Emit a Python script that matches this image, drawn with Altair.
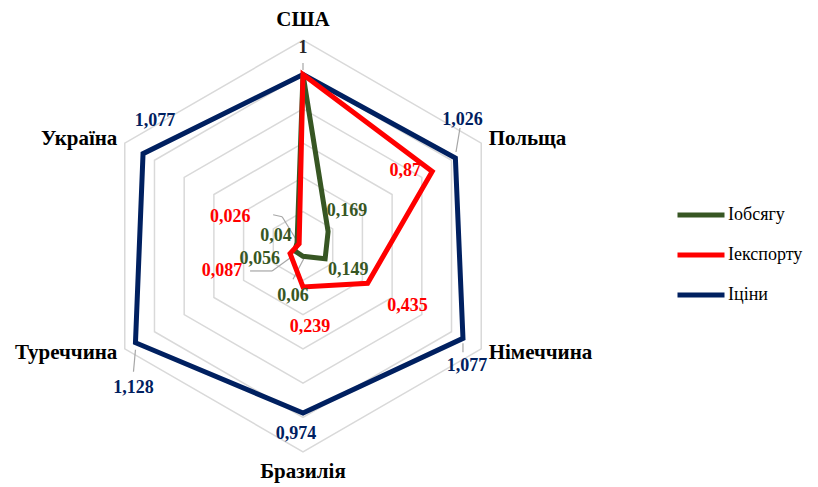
import altair as alt
import pandas as pd

categories = ["США", "Польща", "Німеччина", "Бразилія", "Туреччина", "Україна"]
series = ["Іобсягу", "Іекспорту", "Іціни"]
i_obsyagu = [1, 0.169, 0.149, 0.06, 0.056, 0.04]
i_eksportu = [1, 0.87, 0.435, 0.239, 0.087, 0.026]
i_tsiny = [1, 1.026, 1.077, 0.974, 1.128, 1.077]
grid_levels = [0.2, 0.4, 0.6, 0.8, 1.0, 1.2]
colors = ["#375623", "#FF0000", "#002060"]

rows = []
for s, vals in zip(series, [i_obsyagu, i_eksportu, i_tsiny]):
    for i, (c, v) in enumerate(zip(categories, vals)):
        rows.append({"series": s, "category": c, "idx": i, "value": v,
                     "label": f"{v:g}".replace(".", ",")})
df = pd.DataFrame(rows)
grid = pd.DataFrame([{"level": l, "idx": i} for l in grid_levels for i in range(6)])
cats = pd.DataFrame({"category": categories, "idx": list(range(6))})

W, H = 800, 470
R = 171.5          # pixels per unit
CX, CY = 295, 238  # centre inside plot area
xs = alt.Scale(domain=[-CX / R, (W - CX) / R], nice=False, zero=False)
ys = alt.Scale(domain=[(CY - H) / R, CY / R], nice=False, zero=False)

FONT = "Liberation Serif"

def polar(chart, rfield, out=("x", "y")):
    return chart.transform_calculate(
        **{out[0]: f"datum.{rfield} * sin(datum.idx * PI / 3)",
           out[1]: f"datum.{rfield} * cos(datum.idx * PI / 3)"})

X = lambda f="x": alt.X(f"{f}:Q", scale=xs, axis=None)
Y = lambda f="y": alt.Y(f"{f}:Q", scale=ys, axis=None)

grid_layer = polar(alt.Chart(grid), "level").mark_line(
    interpolate="linear-closed", color="#D9D9D9", strokeWidth=1.5
).encode(x=X(), y=Y(), detail="level:N", order="idx:Q")

color_scale = alt.Scale(domain=series, range=colors)
legend = alt.Legend(title=None, orient="none", legendX=667, legendY=181,
                    symbolType="stroke", symbolSize=2209, symbolStrokeWidth=5,
                    labelFont=FONT, labelFontSize=18, labelColor="#000000",
                    labelOffset=1, rowPadding=4)

def series_layer(s):
    return polar(alt.Chart(df), "value").transform_filter(
        alt.datum.series == s
    ).mark_line(interpolate="linear-closed", strokeWidth=5).encode(
        x=X(), y=Y(), order="idx:Q",
        color=alt.Color("series:N", scale=color_scale, legend=legend))

lines = [series_layer("Іціни"), series_layer("Іобсягу"), series_layer("Іекспорту")]

# category labels
cat_base = alt.Chart(cats).transform_calculate(
    r="(datum.idx == 0 || datum.idx == 3) ? 1.32 : 1.25")
cat_base = polar(cat_base, "r", ("lx", "ly"))
cat_text = dict(font=FONT, fontSize=21, fontWeight="bold", color="#000000", baseline="middle")
cat_layers = [
    cat_base.transform_filter("datum.idx == 0 || datum.idx == 3").mark_text(align="center", **cat_text),
    cat_base.transform_filter("datum.idx == 1 || datum.idx == 2").mark_text(align="left", **cat_text),
    cat_base.transform_filter("datum.idx == 4 || datum.idx == 5").mark_text(align="right", **cat_text),
]
cat_layers = [c.encode(x=X("lx"), y=Y("ly"), text="category:N") for c in cat_layers]

# leader lines (pixel offsets from their data point)
leader_rows = [
    ("Іціни", "США", 0, -11.5, 0, -4.5),
    ("Іціни", "Польща", 4.6, -30, 0.6, -6),
    ("Іціни", "Німеччина", 0, 5, 0, 14),
    ("Іціни", "Туреччина", 0, 7, -2, 29),
    ("Іекспорту", "Україна", -26, -29, -17, -27),
    ("Іекспорту", "Україна", -17, -27, -1, -1),
    ("Іекспорту", "Туреччина", -40, 17.5, -18, 17.5),
    ("Іекспорту", "Туреччина", -18, 17.5, 0, 4.5),
    ("Іобсягу", "Бразилія", -10, 23, 1, 2),
]
leaders = pd.DataFrame(leader_rows, columns=["series", "category", "ax", "ay", "bx", "by"]).merge(
    df[["series", "category", "idx", "value"]], on=["series", "category"])
leader_layer = alt.Chart(leaders).transform_calculate(
    px="datum.value * sin(datum.idx * PI / 3)",
    py="datum.value * cos(datum.idx * PI / 3)",
).transform_calculate(
    x=f"datum.px + datum.ax / {R}", y=f"datum.py - datum.ay / {R}",
    x2=f"datum.px + datum.bx / {R}", y2=f"datum.py - datum.by / {R}",
).mark_rule(color="#A6A6A6", strokeWidth=1.2).encode(
    x=X(), y=Y(), x2="x2:Q", y2="y2:Q")

# data labels: pixel offsets from their points
label_offsets = {
    ("Іціни", "США"): (0, -27),
    ("Іціни", "Польща"): (7, -38),
    ("Іціни", "Німеччина"): (4, 28),
    ("Іціни", "Бразилія"): (-7, 21),
    ("Іціни", "Туреччина"): (-2, 45),
    ("Іціни", "Україна"): (12, -33),
    ("Іекспорту", "Польща"): (-27, 0),
    ("Іекспорту", "Німеччина"): (40, 23),
    ("Іекспорту", "Бразилія"): (7, 40),
    ("Іекспорту", "Туреччина"): (-68, 18),
    ("Іекспорту", "Україна"): (-69, -27),
    ("Іобсягу", "Польща"): (19, -21),
    ("Іобсягу", "Німеччина"): (23, 11),
    ("Іобсягу", "Бразилія"): (-10, 40),
    ("Іобсягу", "Туреччина"): (-35, 8),
    ("Іобсягу", "Україна"): (-21, -7),
}
label_layers = []
for (s, c), (dx, dy) in label_offsets.items():
    col = "#262626" if c == "США" else colors[series.index(s)]
    lay = polar(alt.Chart(df), "value").transform_filter(
        (alt.datum.series == s) & (alt.datum.category == c)
    ).mark_text(font=FONT, fontSize=18, fontWeight="bold", color=col,
                dx=dx, dy=dy, align="center", baseline="middle").encode(
        x=X(), y=Y(), text="label:N")
    label_layers.append(lay)

chart = alt.layer(grid_layer, leader_layer, *lines, *cat_layers, *label_layers).properties(
    width=W, height=H, padding=0, background="white"
).configure_view(stroke=None).configure_legend(labelFont=FONT)

chart.save("out.html", embed_options={"renderer": "svg", "actions": False})
